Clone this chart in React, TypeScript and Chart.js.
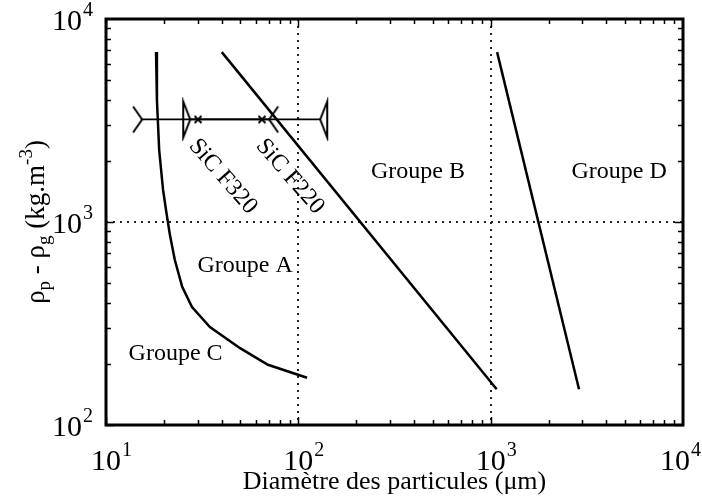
import React, { useEffect, useRef } from "react";
import { Chart, registerables } from "chart.js";
Chart.register(...registerables);

// ---------- data ----------
const xTicks = [10, 100, 1000, 10000];
const xTickExps = ["1", "2", "3", "4"];
const yTicks = [100, 1000, 10000];
const yTickExps = ["2", "3", "4"];
const xDotted = [100, 1000];
const yDotted = [1000];

// Groupe C / Groupe A boundary
const caDiam = [18.2, 18.4, 18.9, 19.8, 20.7, 21.5, 22.8, 24.9, 28.0, 34.7, 49.8, 69.5, 111];
const caRho = [6870, 3990, 2263, 1439, 1083, 862, 650, 479, 381, 304, 239, 198, 171];
// Groupe A / Groupe B boundary
const abDiam = [40, 1075];
const abRho = [6870, 150];
// Groupe B / Groupe D boundary
const bdDiam = [1080, 2880];
const bdRho = [6870, 150];

// SiC powders (min, d50, max)
const sicRho = 3200;
const f320Diam = [15.4, 30.1, 70.5];
const f220Diam = [27.4, 64.7, 130];
const sicNames = ["SiC F320", "SiC F220"];
const sicLabelDiam = [28.3, 63.2];
const sicLabelRho = [2477, 2477];

const groupNames = ["Groupe A", "Groupe B", "Groupe C", "Groupe D"];
const groupDiam = [52.9, 419, 23, 4656];
const groupRho = [567, 1648, 209, 1648];

const xTitle = "Diamètre des particules (μm)";

const FONT = '"Liberation Serif", "Times New Roman", serif';

function mk(w: number, h: number, draw: (c: CanvasRenderingContext2D, cx: number, cy: number) => void) {
  const cv = document.createElement("canvas");
  cv.width = w;
  cv.height = h;
  const c = cv.getContext("2d")!;
  c.strokeStyle = "#000";
  c.lineWidth = 2;
  c.lineJoin = "miter";
  draw(c, w / 2, h / 2);
  return cv;
}

function App() {
  const ref = useRef<HTMLCanvasElement | null>(null);
  useEffect(() => {
    document.body.style.margin = "0";
    const canvas = ref.current!;
    // marker images
    const openRight = mk(24, 32, (c, cx, cy) => {
      c.beginPath(); c.moveTo(cx - 9, cy - 13); c.lineTo(cx, cy); c.lineTo(cx - 9, cy + 13); c.stroke();
    });
    const openLeft = mk(24, 32, (c, cx, cy) => {
      c.beginPath(); c.moveTo(cx + 9, cy - 13); c.lineTo(cx, cy); c.lineTo(cx + 9, cy + 13); c.stroke();
    });
    const triRight = mk(24, 44, (c, cx, cy) => {
      c.lineWidth = 2;
      c.beginPath(); c.moveTo(cx - 7, cy - 18); c.lineTo(cx, cy); c.lineTo(cx - 7, cy + 18); c.closePath(); c.stroke();
    });
    const triLeft = mk(24, 44, (c, cx, cy) => {
      c.lineWidth = 2;
      c.beginPath(); c.moveTo(cx + 7, cy - 18); c.lineTo(cx, cy); c.lineTo(cx + 7, cy + 18); c.closePath(); c.stroke();
    });
    const cross = mk(12, 12, (c, cx, cy) => {
      c.beginPath(); c.moveTo(cx - 3.5, cy - 3.5); c.lineTo(cx + 3.5, cy + 3.5);
      c.moveTo(cx + 3.5, cy - 3.5); c.lineTo(cx - 3.5, cy + 3.5); c.stroke();
    });

    const pts = (xs: number[], ys: number[]) => xs.map((x, i) => ({ x, y: ys[i] }));
    const curve = (xs: number[], ys: number[]) => ({
      data: pts(xs, ys),
      borderColor: "#000",
      borderWidth: 2.5,
      pointRadius: 0,
      fill: false,
      tension: 0,
    });

    const drawPow = (ctx: CanvasRenderingContext2D, base: string, exp: string, x: number, y: number, align: "center" | "right") => {
      ctx.font = `30px ${FONT}`;
      const bw = ctx.measureText(base).width;
      ctx.font = `20px ${FONT}`;
      const ew = ctx.measureText(exp).width;
      let bx: number;
      if (align === "center") {
        bx = x - bw / 2;
        const right = bx + bw + 1 + ew;
        if (right > 701) bx -= right - 701;
      } else bx = x - bw - ew - 1;
      ctx.textAlign = "left";
      ctx.textBaseline = "alphabetic";
      ctx.font = `30px ${FONT}`;
      ctx.fillText(base, bx, y);
      ctx.font = `20px ${FONT}`;
      ctx.fillText(exp, bx + bw + 1, y - 14);
    };

    const frame = {
      id: "frame",
      beforeDatasetsDraw(chart: any) {
        const { ctx, chartArea: a, scales } = chart;
        ctx.save();
        ctx.strokeStyle = "#222";
        ctx.lineWidth = 2;
        ctx.setLineDash([2, 5]);
        for (const v of xDotted) {
          const px = Math.round(scales.x.getPixelForValue(v));
          ctx.beginPath(); ctx.moveTo(px, a.top); ctx.lineTo(px, a.bottom); ctx.stroke();
        }
        for (const v of yDotted) {
          const py = Math.round(scales.y.getPixelForValue(v));
          ctx.beginPath(); ctx.moveTo(a.left, py); ctx.lineTo(a.right, py); ctx.stroke();
        }
        ctx.restore();
      },
      afterDatasetsDraw(chart: any) {
        const { ctx, chartArea: a, scales } = chart;
        const sx = scales.x, sy = scales.y;
        ctx.save();
        ctx.fillStyle = "#000";
        ctx.strokeStyle = "#000";
        // ticks
        ctx.lineWidth = 1.5;
        for (let e = 1; e < 4; e++) {
          for (let m = 1; m <= 9; m++) {
            const v = m * Math.pow(10, e);
            const px = Math.round(sx.getPixelForValue(v)) + 0.5;
            const len = m === 1 ? 8 : 5;
            ctx.beginPath();
            ctx.moveTo(px, a.bottom); ctx.lineTo(px, a.bottom - len);
            ctx.moveTo(px, a.top); ctx.lineTo(px, a.top + len);
            ctx.stroke();
          }
        }
        for (let e = 2; e < 4; e++) {
          for (let m = 1; m <= 9; m++) {
            const v = m * Math.pow(10, e);
            const py = Math.round(sy.getPixelForValue(v)) + 0.5;
            const len = m === 1 ? 8 : 5;
            ctx.beginPath();
            ctx.moveTo(a.left, py); ctx.lineTo(a.left + len, py);
            ctx.moveTo(a.right, py); ctx.lineTo(a.right - len, py);
            ctx.stroke();
          }
        }
        // frame
        ctx.lineWidth = 3;
        ctx.strokeRect(a.left, a.top, a.right - a.left, a.bottom - a.top);

        // tick labels
        xTicks.forEach((v, i) => drawPow(ctx, "10", xTickExps[i], sx.getPixelForValue(v), a.bottom + 45, "center"));
        yTicks.forEach((v, i) => drawPow(ctx, "10", yTickExps[i], a.left - 13, sy.getPixelForValue(v) + 11, "right"));

        // axis titles
        ctx.font = `26px ${FONT}`;
        ctx.textAlign = "center";
        ctx.textBaseline = "alphabetic";
        ctx.fillText(xTitle, (a.left + a.right) / 2, 489);

        const segs: [string, number, number][] = [
          ["ρ", 27, 0], ["p", 19, 6], [" - ρ", 27, 0], ["g", 19, 6], [" (kg.m", 27, 0], ["-3", 19, -12], [")", 27, 0],
        ];
        let total = 0;
        for (const [t, s] of segs) { ctx.font = `${s}px ${FONT}`; total += ctx.measureText(t).width; }
        ctx.save();
        ctx.translate(44, (a.top + a.bottom) / 2);
        ctx.rotate(-Math.PI / 2);
        ctx.textAlign = "left";
        let cx = -total / 2;
        for (const [t, s, dy] of segs) {
          ctx.font = `${s}px ${FONT}`;
          ctx.fillText(t, cx, dy);
          cx += ctx.measureText(t).width;
        }
        ctx.restore();

        // group labels
        ctx.font = `24px ${FONT}`;
        ctx.textAlign = "center";
        groupNames.forEach((n, i) => {
          ctx.fillText(n, sx.getPixelForValue(groupDiam[i]), sy.getPixelForValue(groupRho[i]));
        });
        // SiC labels
        ctx.font = `24px ${FONT}`;
        ctx.textAlign = "left";
        ctx.textBaseline = "middle";
        sicNames.forEach((n, i) => {
          ctx.save();
          ctx.translate(sx.getPixelForValue(sicLabelDiam[i]), sy.getPixelForValue(sicLabelRho[i]));
          ctx.rotate((49 * Math.PI) / 180);
          ctx.fillText(n, 0, 0);
          ctx.restore();
        });
        ctx.restore();
      },
    };

    const chart = new Chart(canvas, {
      type: "line",
      data: {
        datasets: [
          curve(caDiam, caRho),
          curve(abDiam, abRho),
          curve(bdDiam, bdRho),
          {
            data: pts(f320Diam, f320Diam.map(() => sicRho)),
            borderColor: "#000",
            borderWidth: 1.8,
            pointRadius: 5,
            pointStyle: [openRight, cross, openLeft] as any,
            fill: false,
          },
          {
            data: pts(f220Diam, f220Diam.map(() => sicRho)),
            borderColor: "#000",
            borderWidth: 1.8,
            pointRadius: 5,
            pointStyle: [triRight, cross, triLeft] as any,
            fill: false,
          },
        ] as any,
      },
      options: {
        responsive: false,
        animation: false,
        devicePixelRatio: 1,
        events: [],
        layout: { padding: { left: 106, top: 19, right: 19, bottom: 72 } },
        plugins: { legend: { display: false }, tooltip: { enabled: false } },
        scales: {
          x: { type: "logarithmic", min: 10, max: 10000, display: false },
          y: { type: "logarithmic", min: 100, max: 10000, display: false },
        },
      } as any,
      plugins: [frame],
    });
    return () => chart.destroy();
  }, []);
  return (
    <div style={{ width: 702, height: 497, background: "#fff" }}>
      <canvas ref={ref} width={702} height={497} style={{ display: "block" }} />
    </div>
  );
}

export default App;
